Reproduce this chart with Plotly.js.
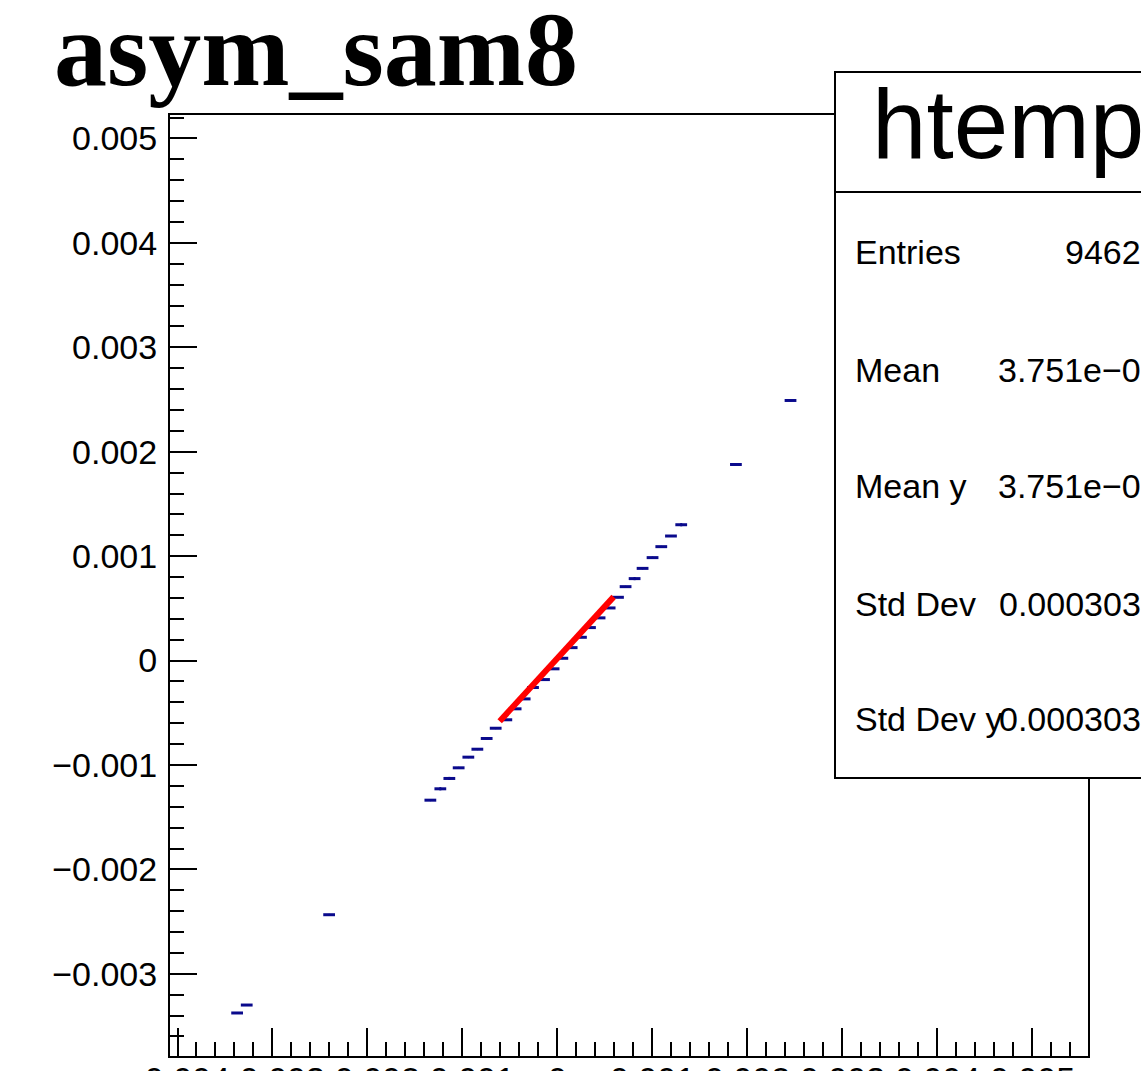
<!DOCTYPE html>
<html>
<head>
<meta charset="utf-8">
<script src="https://cdn.plot.ly/plotly-3.0.1.min.js"></script>
<style>html,body{margin:0;padding:0;background:#fff;}#chart{width:1141px;height:1071px;}</style>
</head>
<body>
<div id="chart"></div>
<script>
// ---- data ----
const binCenterX = [
  -0.003372, -0.003271, -0.002403,
  -0.001337, -0.001232, -0.001137, -0.001039, -0.000937, -0.000842, -0.000744, -0.000649,
  -0.000537, -0.000439, -0.000344, -0.000256, -0.000140, -0.000039, 0.000053, 0.000151,
  0.000249, 0.000344, 0.000445, 0.000551, 0.000639, 0.000719, 0.000814, 0.000898,
  0.001003, 0.001095, 0.001197, 0.001305,
  0.001881, 0.002456
];
const profileMeanY = [
  -0.003375, -0.003299, -0.002434,
  -0.001337, -0.001228, -0.001129, -0.001027, -0.000925, -0.000849, -0.000746, -0.000648,
  -0.000567, -0.000462, -0.000367, -0.000258, -0.000182, -0.000079, 0.000022, 0.000124,
  0.000223, 0.000316, 0.000409, 0.000504, 0.000606, 0.000708, 0.000785, 0.000883,
  0.000986, 0.001091, 0.001193, 0.001301,
  0.001878, 0.002491
];
const profileErrY = [
  0, 0, 0,
  0, 0.000015, 0.000015, 0, 0, 0, 0, 0,
  0, 0, 0, 0, 0, 0, 0, 0,
  0, 0, 0, 0, 0, 0, 0.000015, 0,
  0, 0, 0, 0.000015,
  0, 0
];
const binHalfWidth = 0.000062;
const fitX = [-0.000607, 0.000593];
const fitY = [-0.000581, 0.000610];

// x-axis tick labels (drawn just under the frame; cut by the picture's bottom edge)
const xTickVals = [-0.004, -0.003, -0.002, -0.001, 0, 0.001, 0.002, 0.003, 0.004, 0.005];
const xTickText = ["\u22120.004", "\u22120.003", "\u22120.002", "\u22120.001", "0",
                   "0.001", "0.002", "0.003", "0.004", "0.005"];

const histTitle = "asym_sam8";
const statsName = "htemp";
const statsLabels = ["Entries", "Mean", "Mean y", "Std Dev", "Std Dev y"];
const statsValues = ["94620", "3.751e\u221205", "3.751e\u221205", "0.0003031", "0.0003031"];

// ---- layout geometry (pixels) ----
const W = 1141, H = 1071;
const L = 170, R = 53, T = 115, B = 15;
const PW = W - L - R, PH = H - T - B;
const px = x => (x - L) / PW;
const py = y => (H - B - y) / PH;

const blue = '#0a0a8c';
const font = 'Liberation Sans, Arial, Helvetica, sans-serif';

const traces = [
  {
    type: 'scatter', mode: 'markers',
    x: binCenterX, y: profileMeanY,
    marker: {size: 2, color: blue},
    error_x: {type: 'constant', value: binHalfWidth, thickness: 3, width: 0, color: blue},
    error_y: {type: 'data', array: profileErrY, visible: true, thickness: 2, width: 0, color: blue},
    hoverinfo: 'skip', showlegend: false
  },
  {
    type: 'scatter', mode: 'lines',
    x: fitX, y: fitY,
    line: {color: '#ff0000', width: 6},
    hoverinfo: 'skip', showlegend: false
  }
];

const statRowY = [252, 370, 486, 604, 719];
const annotations = [
  {xref: 'paper', yref: 'paper', x: px(52), y: py(50), xanchor: 'left', yanchor: 'middle',
   text: '<b>' + histTitle + '</b>', showarrow: false,
   font: {family: 'Liberation Serif, Times New Roman, serif', size: 106, color: '#000'}},
  {xref: 'paper', yref: 'paper', x: px(870), y: py(124), xanchor: 'left', yanchor: 'middle',
   text: statsName, showarrow: false,
   font: {family: font, size: 98, color: '#000'}}
];
statsLabels.forEach((lab, i) => {
  annotations.push({xref: 'paper', yref: 'paper', x: px(853), y: py(statRowY[i]), xanchor: 'left', yanchor: 'middle',
    text: lab, showarrow: false, font: {family: font, size: 34, color: '#000'}});
  annotations.push({xref: 'paper', yref: 'paper', x: px(1162), y: py(statRowY[i]), xanchor: 'right', yanchor: 'middle',
    text: statsValues[i], showarrow: false, font: {family: font, size: 34, color: '#000'}});
});
xTickVals.forEach((v, i) => {
  annotations.push({xref: 'x', yref: 'paper', x: v, y: py(1058), xanchor: 'center', yanchor: 'top',
    text: xTickText[i], showarrow: false, font: {family: font, size: 34, color: '#000'}});
});

const layout = {
  width: W, height: H,
  margin: {l: L, r: R, t: T, b: B, pad: 0},
  paper_bgcolor: '#fff', plot_bgcolor: '#fff',
  showlegend: false,
  xaxis: {
    range: [-0.004079, 0.005589], autorange: false,
    tick0: 0, dtick: 0.001, showticklabels: false,
    ticks: 'inside', ticklen: 28, tickwidth: 2, tickcolor: '#000',
    minor: {dtick: 0.0002, ticks: 'inside', ticklen: 14, tickwidth: 2, tickcolor: '#000', showgrid: false},
    showline: true, linewidth: 2, linecolor: '#000', mirror: true,
    showgrid: false, zeroline: false, automargin: false
  },
  yaxis: {
    range: [-0.003787, 0.005225], autorange: false,
    tick0: 0, dtick: 0.001, exponentformat: 'none',
    ticks: 'inside', ticklen: 27, tickwidth: 2, tickcolor: '#000',
    minor: {dtick: 0.0002, ticks: 'inside', ticklen: 14, tickwidth: 2, tickcolor: '#000', showgrid: false},
    showline: true, linewidth: 2, linecolor: '#000', mirror: true,
    showgrid: false, zeroline: false, automargin: false,
    ticklabelstandoff: 4,
    tickfont: {family: font, size: 34, color: '#000'}
  },
  shapes: [
    {type: 'rect', xref: 'paper', yref: 'paper', x0: px(835), x1: px(1300), y0: py(778), y1: py(72),
     line: {color: '#000', width: 2}, fillcolor: '#fff', layer: 'above'},
    {type: 'line', xref: 'paper', yref: 'paper', x0: px(835), x1: px(1300), y0: py(192), y1: py(192),
     line: {color: '#000', width: 2}, layer: 'above'}
  ],
  annotations: annotations
};

Plotly.newPlot('chart', traces, layout, {displayModeBar: false, staticPlot: true});
</script>
</body>
</html>
